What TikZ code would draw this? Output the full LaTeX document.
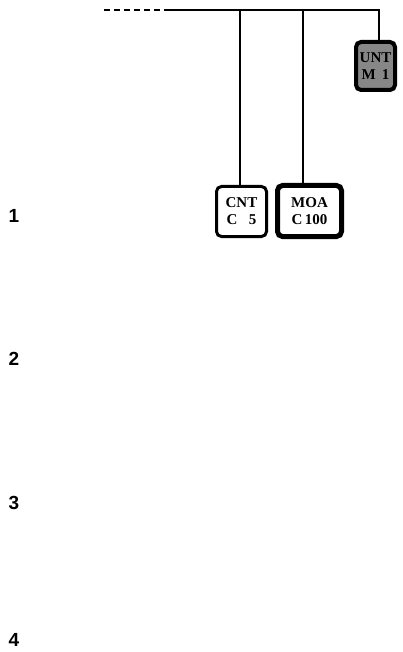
\documentclass[tikz,border=0pt]{standalone}
\usepackage{fontspec}
\setmainfont{Liberation Serif}
\setsansfont{Liberation Sans}
\usepackage{tikz}
\usetikzlibrary{calc, positioning}
\tikzset{>=latex}
\tikzset{seg/.style={draw=black, fill=white, rounded corners=5pt, align=center,
    inner sep=0pt, font=\fontsize{15}{17}\selectfont\bfseries}}
\tikzset{rownum/.style={font=\fontsize{19}{19}\selectfont\sffamily\bfseries, inner sep=0pt}}

\begin{document}
\begin{tikzpicture}[x=1pt, y=-1pt]
  \useasboundingbox (0,0) rectangle (403,652);
  % segments
  \node[seg, fill=black!47, line width=4pt, minimum width=39pt, minimum height=48pt] (unt) at (375.5,66) {UNT\\M\ \,1};
  \node[seg, line width=3pt, minimum width=50pt, minimum height=50pt] (cnt) at (241.5,211.5) {CNT\\C\ \ \ 5};
  \node[seg, line width=5pt, minimum width=64pt, minimum height=51pt] (moa) at (309.5,211) {MOA\\C\,100};
  % bus
  \coordinate (busL) at (104,10);
  \coordinate (busS) at (165,10);
  \coordinate (busE) at (379,10);
  \draw[line width=1.1pt, dash pattern=on 6pt off 4pt] (busL) -- (busS);
  \draw[line width=1.1pt] (busS) -- (busE) -- (busE |- unt.north);
  \draw[line width=1.3pt] (cnt.north -| 240,0) -- (busS -| 240,0);
  \draw[line width=1.3pt] (moa.north -| 303,0) -- (busS -| 303,0);
  % levels
  \foreach \n/\y in {1/216, 2/359, 3/503, 4/640}
    \node[rownum] (lvl\n) at (14,\y) {\n};
\end{tikzpicture}
\end{document}
